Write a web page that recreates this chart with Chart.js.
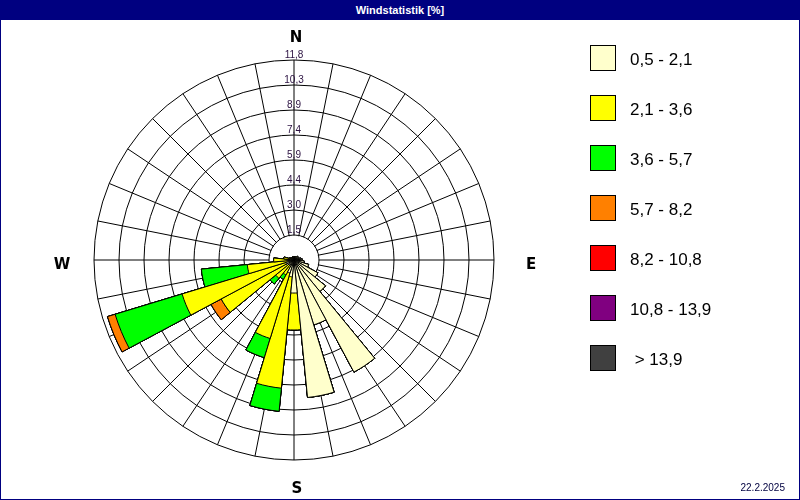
<!DOCTYPE html>
<html>
<head>
<meta charset="utf-8">
<script src="https://cdn.jsdelivr.net/npm/chart.js@4.4.1/dist/chart.umd.min.js"></script>
<style>
  html, body { margin: 0; padding: 0; background: #fff; }
  #page { position: relative; width: 800px; height: 500px; overflow: hidden; background: #fff; font-family: "Liberation Sans", Arial, sans-serif; }
  #rose { position: absolute; left: 0; top: 0; }
  #title { position: absolute; left: 0; top: 0; width: 800px; height: 20px; background: #000080; color: #fff;
           font: bold 11px "Liberation Sans", Arial, sans-serif; line-height: 20px; text-align: center; }
  #frame { position: absolute; left: 0; top: 0; width: 800px; height: 500px; box-sizing: border-box; border: 1px solid #000080; pointer-events: none; }
  #legend { position: absolute; left: 590px; top: 45px; }
  .row { position: absolute; left: 0; width: 200px; height: 26px; }
  .box { position: absolute; left: 0; top: 0; width: 26px; height: 26px; box-sizing: border-box; border: 1px solid #000; }
  .txt { position: absolute; left: 40px; top: 2px; font: 17px "Liberation Sans", Arial, sans-serif; line-height: 26px; color: #000; white-space: pre; }
  #date { position: absolute; right: 15px; top: 482px; font: 10px "Liberation Sans", Arial, sans-serif; color: #000040; }
</style>
</head>
<body>
<div id="page">
  <canvas id="rose" width="800" height="500"></canvas>
  <div id="title">Windstatistik [%]</div>
  <div id="legend"></div>
  <div id="date">22.2.2025</div>
  <div id="frame"></div>
</div>
<script>
// 32 compass sectors, clockwise from North
const DIRECTIONS = ['N','NzO','NNO','NOzN','NO','NOzO','ONO','OzN','O','OzS','OSO','SOzO','SO','SOzS','SSO','SzO',
                    'S','SzW','SSW','SWzS','SW','SWzW','WSW','WzS','W','WzN','WNW','NWzW','NW','NWzN','NNW','NzW'];
const SECTOR_DEG = 11.25;

// wind speed classes (m/s)
const CLASS_LABELS = ['0,5 - 2,1', '2,1 - 3,6', '3,6 - 5,7', '5,7 - 8,2', '8,2 - 10,8', '10,8 - 13,9', ' > 13,9'];
const CLASS_COLORS = ['#FFFFCC', '#FFFF00', '#00FF00', '#FF8000', '#FF0000', '#800080', '#404040'];

// frequency [%] per sector and class
const V_05_21  = [0.2,0.2,0.2,0.2,0.3,0.3,0.3,0.4,0.5,0.6,0.9,1.6,2.4,7.5,4.0,8.15,1.95,1.0,0.8,0.4,0.4,0.5,0.5,0.4,0.3,0.2,0.2,0.2,0.2,0.2,0.2,0.2];
const V_21_36  = [0,0,0,0,0,0,0,0,0,0,0,0,0,0,0,0,2.18,6.6,4.04,0.6,1.0,4.37,6.4,2.37,0.9,0.4,0.1,0,0,0,0,0];
const V_36_57  = [0,0,0,0,0,0,0,0,0,0,0,0,0,0,0,0,0,1.37,1.18,0.3,0.43,0,4.13,2.72,0,0,0,0,0,0,0,0];
const V_57_82  = [0,0,0,0,0,0,0,0,0,0,0,0,0,0,0,0,0,0,0,0,0,0.68,0.47,0,0,0,0,0,0,0,0,0];
const V_82_108 = [0,0,0,0,0,0,0,0,0,0,0,0,0,0,0,0,0,0,0,0,0,0,0,0,0,0,0,0,0,0,0,0];
const V_108_139= [0,0,0,0,0,0,0,0,0,0,0,0,0,0,0,0,0,0,0,0,0,0,0,0,0,0,0,0,0,0,0,0];
const V_GT139  = [0,0,0,0,0,0,0,0,0,0,0,0,0,0,0,0,0,0,0,0,0,0,0,0,0,0,0,0,0,0,0,0];
const CLASS_VALUES = [V_05_21, V_21_36, V_36_57, V_57_82, V_82_108, V_108_139, V_GT139];

// radial axis
const RING_VALUES = [0, 1.475, 2.95, 4.425, 5.9, 7.375, 8.85, 10.325, 11.8];
const RING_LABELS = ['', '1,5', '3,0', '4,4', '5,9', '7,4', '8,9', '10,3', '11,8'];

// ---- build stacked (cumulative) polar datasets ----
// North sector is split in two halves so that every sector is centred on its direction
function toPolar(arr) { return [arr[0]].concat(arr.slice(1), [arr[0]]); }
const ANGLES = [SECTOR_DEG / 2].concat(new Array(DIRECTIONS.length - 1).fill(SECTOR_DEG), [SECTOR_DEG / 2]);
const running = new Array(DIRECTIONS.length).fill(0);
const datasets = CLASS_VALUES.map((vals, k) => {
  const cum = vals.map((v, i) => (running[i] += v));
  return {
    label: CLASS_LABELS[k],
    data: toPolar(cum),
    backgroundColor: CLASS_COLORS[k],
    borderColor: '#000',
    borderWidth: 1,
    angle: (ctx) => ANGLES[ctx.dataIndex]
  };
});

// legend (HTML)
const legendEl = document.getElementById('legend');
CLASS_LABELS.forEach((lab, k) => {
  const row = document.createElement('div');
  row.className = 'row';
  row.style.top = (k * 50) + 'px';
  row.innerHTML = '<div class="box" style="background:' + CLASS_COLORS[k] + '"></div><div class="txt"></div>';
  row.querySelector('.txt').textContent = lab;
  legendEl.appendChild(row);
});

const roseDecor = {
  id: 'roseDecor',
  beforeDatasetsDraw(chart) {
    const s = chart.scales.r, c = chart.ctx;
    const hole = s.getDistanceFromCenterForValue(RING_VALUES[1]);
    c.save();
    c.fillStyle = '#fff';
    c.beginPath();
    c.arc(s.xCenter, s.yCenter, hole - 0.7, 0, Math.PI * 2);
    c.fill();
    c.font = '10px "Liberation Sans", Arial, sans-serif';
    c.fillStyle = '#2a1040';
    c.textAlign = 'center';
    c.textBaseline = 'alphabetic';
    RING_VALUES.forEach((v, i) => {
      if (!RING_LABELS[i]) return;
      const r = s.getDistanceFromCenterForValue(v);
      c.fillText(RING_LABELS[i], s.xCenter, s.yCenter - r - 2.5);
    });
    c.restore();
  },
  afterDraw(chart) {
    const s = chart.scales.r, c = chart.ctx, R = s.drawingArea;
    c.save();
    c.font = 'bold 15px "DejaVu Sans", sans-serif';
    c.fillStyle = '#000';
    c.textAlign = 'center';
    c.textBaseline = 'alphabetic';
    c.fillText('N', s.xCenter + 2, s.yCenter - R - 18);
    c.fillText('S', s.xCenter + 3, s.yCenter + R + 33);
    c.fillText('W', s.xCenter - R - 32, s.yCenter + 9);
    c.fillText('E', s.xCenter + R + 37, s.yCenter + 9);
    c.restore();
  }
};

new Chart(document.getElementById('rose'), {
  type: 'polarArea',
  data: { labels: DIRECTIONS, datasets },
  options: {
    responsive: false,
    animation: false,
    layout: { padding: { left: 94, top: 60, right: 306, bottom: 40 } },
    plugins: { legend: { display: false }, tooltip: { enabled: false }, title: { display: false } },
    scales: {
      r: {
        min: 0, max: 11.8, startAngle: 0,
        afterBuildTicks: (scale) => { scale.ticks = RING_VALUES.map(v => ({ value: v })); },
        ticks: { display: false },
        grid: { circular: true, color: '#000', lineWidth: 1 },
        angleLines: { display: true, color: '#000', lineWidth: 1 },
        pointLabels: { display: false }
      }
    }
  },
  plugins: [roseDecor]
});
</script>
</body>
</html>
